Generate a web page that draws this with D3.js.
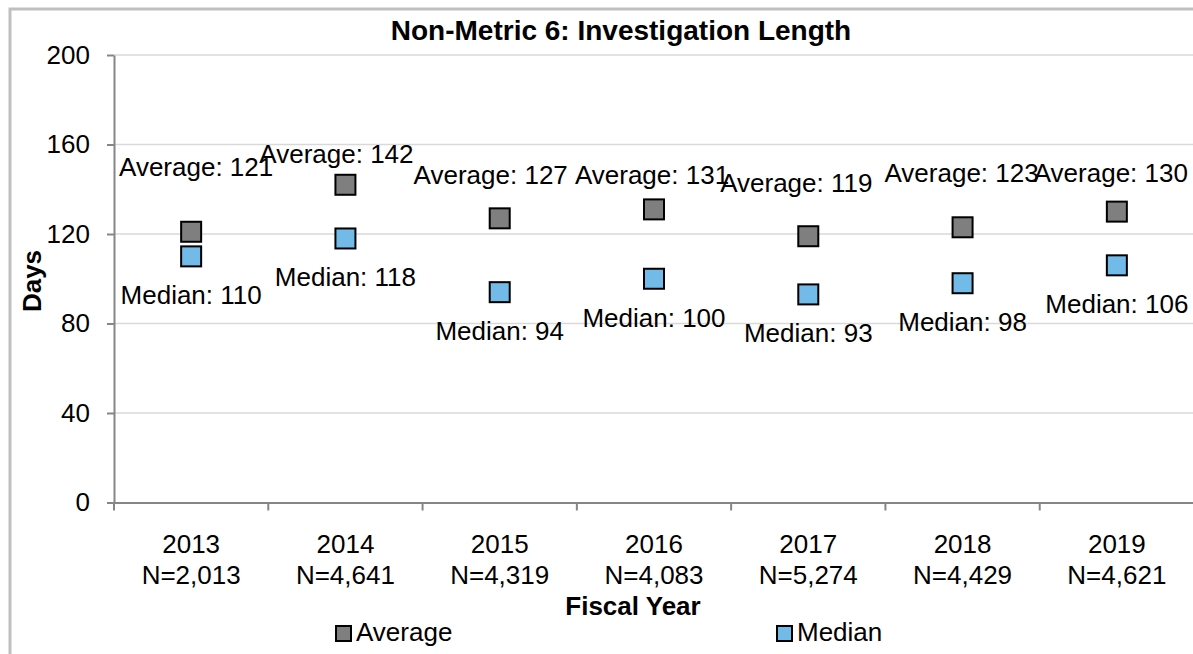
<!DOCTYPE html>
<html>
<head>
<meta charset="utf-8">
<title>Non-Metric 6: Investigation Length</title>
<script src="https://cdn.jsdelivr.net/npm/d3@7"></script>
<style>
  body { margin: 0; background: #fff; }
  svg { display: block; font-family: 'Liberation Sans', Arial, sans-serif; }
  .grid line { stroke: #d9d9d9; stroke-width: 1.5; }
  .axis path, .axis line { stroke: #868686; stroke-width: 2; }
  .axis text { fill: #000; font-size: 26px; font-family: 'Liberation Sans', Arial, sans-serif; }
  .label { font-size: 26px; fill: #000; }
</style>
</head>
<body>
<svg class="chart"></svg>
<script>
// chart values
const years = ['2013', '2014', '2015', '2016', '2017', '2018', '2019'];
const counts = ['N=2,013', 'N=4,641', 'N=4,319', 'N=4,083', 'N=5,274', 'N=4,429', 'N=4,621'];
const averages = [121, 142, 127, 131, 119, 123, 130];
const medians = [110, 118, 94, 100, 93, 98, 106];
const yTicks = [0, 40, 80, 120, 160, 200];
const seriesNames = ['Average', 'Median'];

const app = (function () {
  'use strict';

  const width = 1193;
  const height = 654;
  const colors = { Average: '#7f7f7f', Median: '#72bbe9' };
  // hand placed offsets of the "Average" labels (Excel manual placement)
  const avgLabelShift = [[5, -56], [-9, -22], [-9, -34], [-2, -25], [-12, -44], [-1, -45], [-6, -30]];

  function init () {
    const plot = { left: 114, top: 55, right: 1194, bottom: 502.5 };

    const svg = d3.select('.chart')
      .attr('width', width)
      .attr('height', height);

    // outer frame
    svg.append('rect')
      .attr('x', 10)
      .attr('y', 9)
      .attr('width', 1300)
      .attr('height', 800)
      .attr('fill', 'none')
      .attr('stroke', '#bfbfbf')
      .attr('stroke-width', 3);

    const xScale = d3.scaleBand()
      .domain(years)
      .range([plot.left, plot.right]);

    const yScale = d3.scaleLinear()
      .domain([0, 200])
      .range([plot.bottom, plot.top]);

    // gridlines
    svg.append('g')
      .attr('class', 'grid')
      .selectAll('line')
      .data(yTicks.filter(function (d) { return d > 0; }))
      .enter()
      .append('line')
      .attr('x1', plot.left)
      .attr('x2', plot.right)
      .attr('y1', function (d) { return yScale(d); })
      .attr('y2', function (d) { return yScale(d); });

    // y axis
    const yAxis = d3.axisLeft(yScale)
      .tickValues(yTicks)
      .tickSize(7)
      .tickSizeOuter(0)
      .tickPadding(17);

    svg.append('g')
      .attr('class', 'axis')
      .attr('transform', 'translate(' + plot.left + ',0)')
      .call(yAxis);

    // x axis, labels on two lines
    const xAxis = d3.axisBottom(xScale)
      .tickSize(0)
      .tickSizeOuter(0)
      .tickFormat('');

    const gx = svg.append('g')
      .attr('class', 'axis')
      .attr('transform', 'translate(0,' + plot.bottom + ')')
      .call(xAxis);

    gx.selectAll('.tick text')
      .attr('y', 0)
      .attr('dy', null)
      .each(function (d, i) {
        const t = d3.select(this);
        t.append('tspan').attr('x', 0).attr('y', 50).text(d);
        t.append('tspan').attr('x', 0).attr('y', 81).text(counts[i]);
      });

    // tick marks between categories
    gx.selectAll('.sep')
      .data(years)
      .enter()
      .append('line')
      .attr('class', 'sep')
      .attr('x1', function (d) { return xScale(d); })
      .attr('x2', function (d) { return xScale(d); })
      .attr('y1', 0)
      .attr('y2', 8);

    // axis titles
    svg.append('text')
      .attr('x', 621)
      .attr('y', 40)
      .style('text-anchor', 'middle')
      .style('font-weight', 'bold')
      .style('font-size', '28px')
      .text('Non-Metric 6: Investigation Length');

    svg.append('text')
      .attr('transform', 'translate(41,281) rotate(-90)')
      .style('text-anchor', 'middle')
      .style('font-weight', 'bold')
      .style('font-size', '26px')
      .text('Days');

    svg.append('text')
      .attr('x', 633)
      .attr('y', 615)
      .style('text-anchor', 'middle')
      .style('font-weight', 'bold')
      .style('font-size', '26px')
      .text('Fiscal Year');

    const cx = function (i) { return xScale(years[i]) + xScale.bandwidth() / 2; };
    const size = 20;

    // markers
    [averages, medians].forEach(function (values, s) {
      svg.append('g')
        .selectAll('rect')
        .data(values)
        .enter()
        .append('rect')
        .attr('x', function (d, i) { return cx(i) - size / 2; })
        .attr('y', function (d) { return yScale(d) - size / 2; })
        .attr('width', size)
        .attr('height', size)
        .attr('fill', colors[seriesNames[s]])
        .attr('stroke', '#000')
        .attr('stroke-width', 2);
    });

    // data labels
    svg.append('g')
      .selectAll('text')
      .data(averages)
      .enter()
      .append('text')
      .attr('class', 'label')
      .attr('x', function (d, i) { return cx(i) + avgLabelShift[i][0]; })
      .attr('y', function (d, i) { return yScale(d) + avgLabelShift[i][1]; })
      .style('text-anchor', 'middle')
      .text(function (d) { return 'Average: ' + d; });

    svg.append('g')
      .selectAll('text')
      .data(medians)
      .enter()
      .append('text')
      .attr('class', 'label')
      .attr('x', function (d, i) { return cx(i); })
      .attr('y', function (d) { return yScale(d) + 48; })
      .style('text-anchor', 'middle')
      .text(function (d) { return 'Median: ' + d; });

    // legend
    const legendX = [336, 777];
    const legend = svg.append('g')
      .selectAll('g')
      .data(seriesNames)
      .enter()
      .append('g')
      .attr('transform', function (d, i) { return 'translate(' + legendX[i] + ',626)'; });

    legend.append('rect')
      .attr('width', 15)
      .attr('height', 15)
      .attr('fill', function (d) { return colors[d]; })
      .attr('stroke', '#000')
      .attr('stroke-width', 2);

    legend.append('text')
      .attr('class', 'label')
      .attr('x', 20)
      .attr('y', 15)
      .text(function (d) { return d; });
  }

  return {
    init: init
  };
}());

window.addEventListener('load', app.init);
</script>
</body>
</html>
